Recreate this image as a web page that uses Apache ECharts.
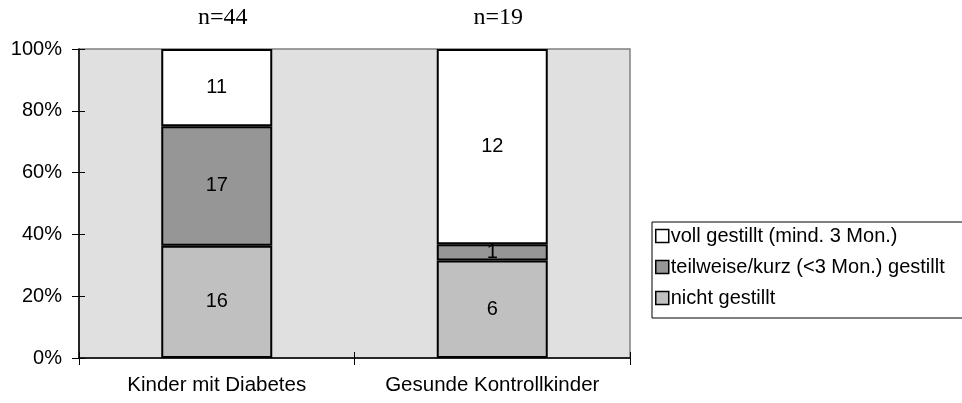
<!DOCTYPE html>
<html lang="de">
	<head>
		<meta charset="utf-8">
		<title>Stillen</title>
		<script src="https://cdn.jsdelivr.net/npm/echarts@6/dist/echarts.min.js"></script>
		<style type="text/css">
			html, body { margin: 0; padding: 0; background: #fff; }
			#chart { width: 962px; height: 403px; }
		</style>
	</head>
	<body>
		<div id="chart"></div>
		<script type="text/javascript">
			// Daten
			var categories = ['Kinder mit Diabetes', 'Gesunde Kontrollkinder'];
			var nichtGestillt = [16, 6];
			var teilweiseGestillt = [17, 1];
			var vollGestillt = [11, 12];
			var yTicks = [0, 20, 40, 60, 80, 100];

			var totals = categories.map(function(c, i) {
				return nichtGestillt[i] + teilweiseGestillt[i] + vollGestillt[i];
			});
			function pct(arr) {
				return arr.map(function(v, i) { return { value: v / totals[i] * 100, count: v }; });
			}

			var font = 'Arial, "Liberation Sans", sans-serif';
			function seg(name, arr, color) {
				return {
					name: name,
					type: 'bar',
					stack: 'a',
					barWidth: 111,
					data: pct(arr),
					itemStyle: { color: color, borderColor: '#000', borderWidth: 2 },
					label: {
						show: true,
						position: 'inside',
						color: '#000',
						fontSize: 20,
						fontFamily: font,
						formatter: function(p) { return p.data.count; }
					}
				};
			}

			var myChart = echarts.init(document.getElementById('chart'));
			myChart.setOption({
				animation: false,
				grid: {
					left: 79, right: 332, top: 49, bottom: 45,
					show: true, backgroundColor: '#e0e0e0', borderColor: '#808080', borderWidth: 1.5
				},
				legend: {
					left: 652, top: 222,
					orient: 'vertical',
					data: ['voll gestillt (mind. 3 Mon.)', 'teilweise/kurz (<3 Mon.) gestillt', 'nicht gestillt'],
					itemWidth: 13, itemHeight: 13, itemGap: 11,
					icon: 'rect',
					borderColor: '#000', borderWidth: 1,
					padding: [4, 20, 10, 3],
					textStyle: { fontSize: 20, lineHeight: 20, fontFamily: font, color: '#000', padding: [0, 0, 0, -3] },
					itemStyle: { borderColor: '#000', borderWidth: 1.5 }
				},
				xAxis: [{
					type: 'category',
					data: categories,
					axisLine: { lineStyle: { color: '#000', width: 1.5 } },
					axisTick: { show: true, length: 7, lineStyle: { color: '#000' } },
					axisLabel: { interval: 0, color: '#000', fontSize: 20.5, fontFamily: font, margin: 17 }
				}, {
					type: 'category',
					position: 'bottom',
					data: categories,
					axisLine: { show: false },
					axisTick: { show: true, inside: true, length: 6, lineStyle: { color: '#000' } },
					axisLabel: { show: false }
				}],
				yAxis: [{
					type: 'value',
					min: yTicks[0], max: yTicks[yTicks.length - 1], interval: 20,
					axisLine: { show: true, lineStyle: { color: '#000', width: 1.5 } },
					axisTick: { show: true, length: 7, lineStyle: { color: '#000' } },
					splitLine: { show: false },
					axisLabel: { color: '#000', fontSize: 20, fontFamily: font, margin: 17, formatter: '{value}%' }
				}, {
					type: 'value',
					position: 'left',
					min: yTicks[0], max: yTicks[yTicks.length - 1], interval: 20,
					axisLine: { show: false },
					axisTick: { show: true, inside: true, length: 6, lineStyle: { color: '#000' } },
					splitLine: { show: false },
					axisLabel: { show: false }
				}],
				series: [
					seg('nicht gestillt', nichtGestillt, '#c0c0c0'),
					seg('teilweise/kurz (<3 Mon.) gestillt', teilweiseGestillt, '#969696'),
					seg('voll gestillt (mind. 3 Mon.)', vollGestillt, '#ffffff'),
					{
						name: 'n',
						type: 'bar',
						stack: 'a',
						barWidth: 111,
						data: totals.map(function() { return 0; }),
						itemStyle: { color: 'transparent' },
						label: {
							show: true,
							position: 'top',
							distance: 19,
							offset: [6, 0],
							color: '#000',
							fontSize: 24,
							fontFamily: '"Liberation Serif", "Times New Roman", serif',
							formatter: function(p) { return 'n=' + totals[p.dataIndex]; }
						}
					}
				]
			});
		</script>
	</body>
</html>
